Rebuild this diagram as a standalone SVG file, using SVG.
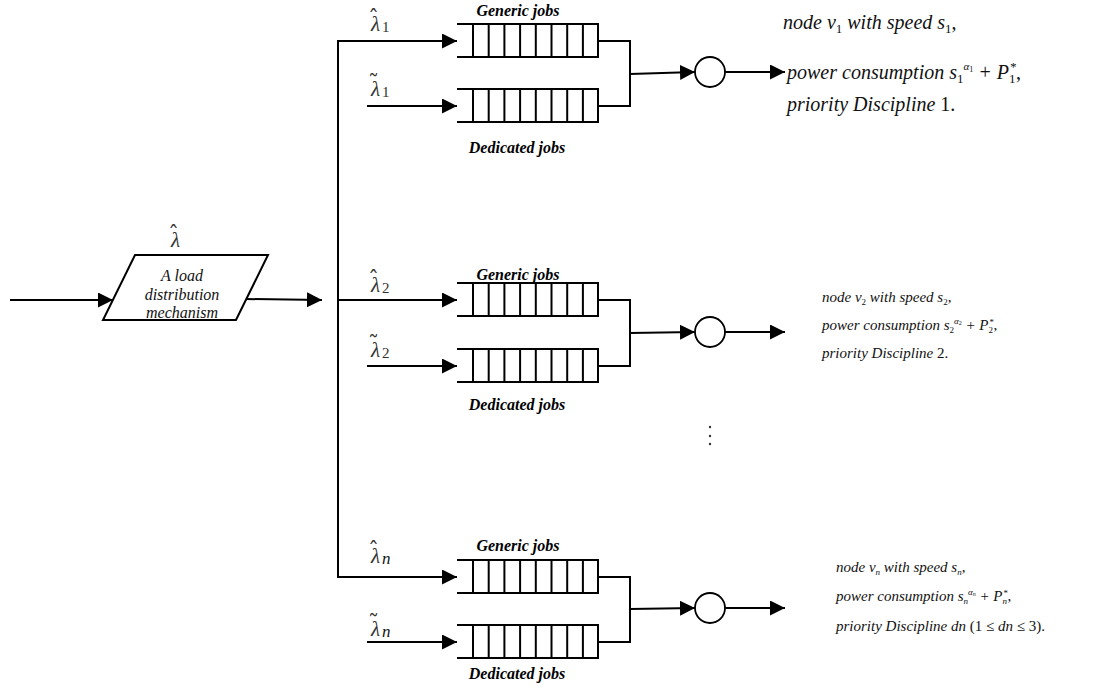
<svg xmlns="http://www.w3.org/2000/svg" width="1102" height="688" viewBox="0 0 1102 688">
  <style>
    .ln { fill: none; stroke: #000; stroke-width: 2; }
    .lab { font-family: "Liberation Serif", "DejaVu Serif", serif; font-weight: bold; font-style: italic; font-size: 16px; fill: #000; }
    .it { font-family: "Liberation Serif", "DejaVu Serif", serif; font-style: italic; fill: #111; }
    .rm { font-style: normal; }
    .lam { font-family: "Liberation Serif", "DejaVu Serif", serif; font-style: italic; font-size: 21px; fill: #333; }
    .acc { font-family: "DejaVu Serif", serif; font-style: normal; font-size: 22px; }
    .sub { font-family: "Liberation Serif", serif; font-style: normal; font-size: 15px; }
  </style>
  <defs>
    <marker id="arr" viewBox="0 0 15 15" refX="15" refY="7.5" markerWidth="15" markerHeight="15" markerUnits="userSpaceOnUse" orient="auto">
      <path d="M0,0 L15,7.5 L0,15 Z" fill="#000"/>
    </marker>
    <!-- one queue: open left end, 8 closed cells -->
    <g id="queue">
      <path class="ln" d="M0,0 H141 V33 H0"/>
      <path class="ln" d="M16,0 V33 M31.7,0 V33 M47.4,0 V33 M63.1,0 V33 M78.8,0 V33 M94.5,0 V33 M110.2,0 V33 M125.9,0 V33"/>
    </g>
  </defs>
  <rect width="1102" height="688" fill="#fff"/>

  <!-- load distribution node -->
  <g id="dispatcher">
    <polygon points="135,255 268,255 236,320 103,320" fill="#fff" stroke="#000" stroke-width="2"/>
    <text class="it" font-size="16" text-anchor="middle" x="182" y="281">A load</text>
    <text class="it" font-size="16" text-anchor="middle" x="182" y="300">distribution</text>
    <text class="it" font-size="16" text-anchor="middle" x="182" y="318">mechanism</text>
    <text class="lam" x="168" y="247">λ<tspan class="acc" dx="-12" dy="-5">ˆ</tspan></text>
  </g>

  <!-- connectors -->
  <g id="connectors">
    <line class="ln" x1="10" y1="300" x2="113" y2="300" marker-end="url(#arr)"/>
    <line class="ln" x1="246" y1="299" x2="322" y2="300" marker-end="url(#arr)"/>
    <path class="ln" d="M338,577 V41"/>
    <!-- node 1 -->
    <line class="ln" x1="337" y1="41" x2="457" y2="41" marker-end="url(#arr)"/>
    <line class="ln" x1="367" y1="106" x2="457" y2="106" marker-end="url(#arr)"/>
    <path class="ln" d="M598,41 H630 V106 H598"/>
    <line class="ln" x1="630" y1="74" x2="695" y2="72" marker-end="url(#arr)"/>
    <line class="ln" x1="725" y1="72" x2="785" y2="72" marker-end="url(#arr)"/>
    <!-- node 2 -->
    <line class="ln" x1="337" y1="300" x2="457" y2="300" marker-end="url(#arr)"/>
    <line class="ln" x1="367" y1="366" x2="457" y2="366" marker-end="url(#arr)"/>
    <path class="ln" d="M598,300 H630 V366 H598"/>
    <line class="ln" x1="630" y1="333" x2="695" y2="332" marker-end="url(#arr)"/>
    <line class="ln" x1="725" y1="332" x2="785" y2="332" marker-end="url(#arr)"/>
    <!-- node n -->
    <line class="ln" x1="337" y1="577" x2="457" y2="577" marker-end="url(#arr)"/>
    <line class="ln" x1="367" y1="642" x2="457" y2="642" marker-end="url(#arr)"/>
    <path class="ln" d="M598,577 H630 V642 H598"/>
    <line class="ln" x1="630" y1="609" x2="695" y2="608" marker-end="url(#arr)"/>
    <line class="ln" x1="725" y1="608" x2="785" y2="608" marker-end="url(#arr)"/>
  </g>

  <!-- node 1 -->
  <g id="node1">
    <text class="lam" x="368" y="31">λ<tspan class="acc" dx="-12" dy="-5">ˆ</tspan><tspan class="sub" dx="3" dy="6">1</tspan></text>
    <text class="lam" x="368" y="96">λ<tspan class="acc" dx="-12" dy="-5">˜</tspan><tspan class="sub" dx="3" dy="6">1</tspan></text>
    <text class="lab" text-anchor="middle" x="518" y="16">Generic jobs</text>
    <use href="#queue" x="457" y="24"/>
    <use href="#queue" x="457" y="89"/>
    <text class="lab" text-anchor="middle" x="517" y="153">Dedicated jobs</text>
    <circle cx="710" cy="72" r="15" fill="#fff" stroke="#000" stroke-width="1.8"/>
    <text class="it" font-size="20" x="783" y="29">node v<tspan class="rm" font-size="13" dy="4">1</tspan><tspan dy="-4"> with speed s</tspan><tspan class="rm" font-size="13" dy="4">1</tspan><tspan class="rm" dy="-4">,</tspan></text>
    <text class="it" font-size="20" x="787" y="79">power consumption s<tspan class="rm" font-size="13" dy="4">1</tspan><tspan font-size="11" dy="-13">α</tspan><tspan class="rm" font-size="8" dy="2">1</tspan><tspan dy="7"> + P</tspan><tspan class="rm" font-size="13" dy="4">1</tspan><tspan font-size="13" dx="-6" dy="-12">*</tspan><tspan class="rm" dy="8">,</tspan></text>
    <text class="it" font-size="20" x="787" y="111">priority Discipline <tspan class="rm">1.</tspan></text>
  </g>

  <!-- node 2 -->
  <g id="node2">
    <text class="lam" x="368" y="292">λ<tspan class="acc" dx="-12" dy="-5">ˆ</tspan><tspan class="sub" dx="3" dy="6">2</tspan></text>
    <text class="lam" x="368" y="357">λ<tspan class="acc" dx="-12" dy="-5">˜</tspan><tspan class="sub" dx="3" dy="6">2</tspan></text>
    <text class="lab" text-anchor="middle" x="518" y="280">Generic jobs</text>
    <use href="#queue" x="457" y="283"/>
    <use href="#queue" x="457" y="349"/>
    <text class="lab" text-anchor="middle" x="517" y="410">Dedicated jobs</text>
    <circle cx="710" cy="332" r="15" fill="#fff" stroke="#000" stroke-width="1.8"/>
    <text class="it" font-size="15" x="822" y="302">node v<tspan class="rm" font-size="9" dy="3">2</tspan><tspan dy="-3">  with speed s</tspan><tspan class="rm" font-size="9" dy="3">2</tspan><tspan class="rm" dy="-3">,</tspan></text>
    <text class="it" font-size="15" x="822" y="330">power consumption s<tspan class="rm" font-size="9" dy="3">2</tspan><tspan font-size="9" dy="-9">α</tspan><tspan class="rm" font-size="6" dy="1">2</tspan><tspan dy="5"> + P</tspan><tspan class="rm" font-size="9" dy="3">2</tspan><tspan font-size="9" dx="-4" dy="-8">*</tspan><tspan class="rm" dy="5">,</tspan></text>
    <text class="it" font-size="15" x="822" y="358">priority Discipline <tspan class="rm">2.</tspan></text>
  </g>

  <!-- more nodes elided -->
  <g id="ellipsis" fill="#333">
    <circle cx="710" cy="427" r="1.2"/>
    <circle cx="710" cy="436" r="1.2"/>
    <circle cx="710" cy="444" r="1.2"/>
  </g>

  <!-- node n -->
  <g id="noden">
    <text class="lam" x="368" y="563">λ<tspan class="acc" dx="-12" dy="-5">ˆ</tspan><tspan class="it" font-size="17" dx="3" dy="6">n</tspan></text>
    <text class="lam" x="368" y="636">λ<tspan class="acc" dx="-12" dy="-5">˜</tspan><tspan class="it" font-size="17" dx="3" dy="6">n</tspan></text>
    <text class="lab" text-anchor="middle" x="518" y="551">Generic jobs</text>
    <use href="#queue" x="457" y="560"/>
    <use href="#queue" x="457" y="625"/>
    <text class="lab" text-anchor="middle" x="517" y="679">Dedicated jobs</text>
    <circle cx="710" cy="608" r="15" fill="#fff" stroke="#000" stroke-width="1.8"/>
    <text class="it" font-size="15" x="836" y="572">node v<tspan font-size="9" dy="3">n</tspan><tspan dy="-3">  with speed s</tspan><tspan font-size="9" dy="3">n</tspan><tspan class="rm" dy="-3">,</tspan></text>
    <text class="it" font-size="15" x="836" y="601">power consumption s<tspan font-size="9" dy="3">n</tspan><tspan font-size="9" dy="-9">α</tspan><tspan font-size="6" dy="1">n</tspan><tspan dy="5"> + P</tspan><tspan font-size="9" dy="3">n</tspan><tspan font-size="9" dx="-4" dy="-8">*</tspan><tspan class="rm" dy="5">,</tspan></text>
    <text class="it" font-size="15" x="836" y="631">priority Discipline dn <tspan class="rm">(1 ≤ </tspan>dn<tspan class="rm"> ≤ 3).</tspan></text>
  </g>
</svg>
